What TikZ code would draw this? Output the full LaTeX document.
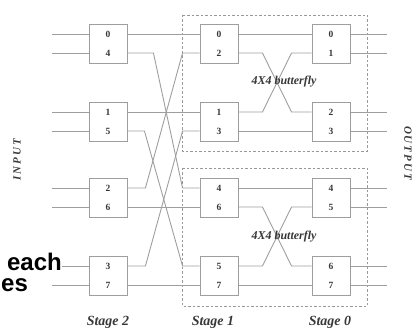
\documentclass[tikz,border=0pt]{standalone}
\usepackage{fontspec}
\setmainfont{Liberation Serif}
\newfontfamily\arialfont{Liberation Sans}
\newfontfamily\spacedfont[LetterSpace=18]{Liberation Serif}
\usetikzlibrary{calc}
\definecolor{wirecol}{gray}{0.62}
\definecolor{inkcol}{gray}{0.22}
\tikzset{
  swbox/.style={draw=wirecol, line width=0.9pt, minimum width=38pt, minimum height=39pt, inner sep=0pt},
  port/.style={font=\bfseries\fontsize{9.5}{9.5}\selectfont, text=inkcol, inner sep=0pt},
  wire/.style={draw=wirecol, line width=0.9pt},
  bfly/.style={draw=gray!80, line width=0.7pt, dash pattern=on 2.5pt off 2pt},
  stagelbl/.style={font=\bfseries\itshape\fontsize{14}{14}\selectfont, text=inkcol},
  bflylbl/.style={font=\bfseries\itshape\fontsize{12}{12}\selectfont, text=inkcol, inner sep=0pt},
  iolbl/.style={font=\spacedfont\bfseries\itshape\fontsize{11}{11}\selectfont, text=gray!45!black},
  pagetext/.style={inner sep=0pt}
}
\begin{document}
\begin{tikzpicture}[x=1pt,y=-1pt]
    \useasboundingbox (0,0) rectangle (413,334);

    %butterfly frames
    \draw[bfly] (182,15) rectangle (367,151);
    \draw[bfly] (182,168) rectangle (367,306);

    %switch boxes
    \foreach \st/\bx/\x/\y/\a/\b in {2/s2a/108/43.5/0/4, 2/s2b/108/121.5/1/5, 2/s2c/108/197.5/2/6, 2/s2d/108/275.5/3/7,
                                  1/s1a/219/43.5/0/2, 1/s1b/219/121.5/1/3, 1/s1c/219/197.5/4/6, 1/s1d/219/275.5/5/7,
                                  0/s0a/331/43.5/0/1, 0/s0b/331/121.5/2/3, 0/s0c/331/197.5/4/5, 0/s0d/331/275.5/6/7}
    {
      \node[swbox] (\bx) at (\x,\y) {};
      \node[port] (n\st-\a) at (\x,\y-9.5) {\a};
      \node[port] (n\st-\b) at (\x,\y+9.5) {\b};
    }

    %inputs
    \foreach \bx/\a/\b in {s2a/0/4, s2b/1/5, s2c/2/6, s2d/3/7}
    {
      \draw[wire] (\bx.west |- n2-\a) -- ++(-37,0);
      \draw[wire] (\bx.west |- n2-\b) -- ++(-37,0);
    }

    %outputs
    \foreach \bx/\a/\b in {s0a/0/1, s0b/2/3, s0c/4/5, s0d/6/7}
    {
      \draw[wire] (\bx.east |- n0-\a) -- ++(37,0);
      \draw[wire] (\bx.east |- n0-\b) -- ++(37,0);
    }

    %stage 2 to stage 1
    \draw[wire] (s2a.east |- n2-0) -- (s1a.west |- n1-0);
    \draw[wire] (s2b.east |- n2-1) -- (s1b.west |- n1-1);
    \draw[wire] (s2c.east |- n2-6) -- (s1c.west |- n1-6);
    \draw[wire] (s2d.east |- n2-7) -- (s1d.west |- n1-7);
    \draw[wire] (s2a.east |- n2-4) -- ++(26,0) -- ($(s1c.west |- n1-4)+(-17,0)$) -- (s1c.west |- n1-4);
    \draw[wire] (s2b.east |- n2-5) -- ++(17,0) -- ($(s1d.west |- n1-5)+(-17,0)$) -- (s1d.west |- n1-5);
    \draw[wire] (s2c.east |- n2-2) -- ++(18,0) -- ($(s1a.west |- n1-2)+(-17,0)$) -- (s1a.west |- n1-2);
    \draw[wire] (s2d.east |- n2-3) -- ++(18,0) -- ($(s1b.west |- n1-3)+(-17,0)$) -- (s1b.west |- n1-3);

    %stage 1 to stage 0
    \foreach \ba/\bb/\a in {s1a/s0a/0, s1b/s0b/3, s1c/s0c/4, s1d/s0d/7}
      \draw[wire] (\ba.east |- n1-\a) -- (\bb.west |- n0-\a);
    \foreach \ba/\bb/\a in {s1a/s0b/2, s1b/s0a/1, s1c/s0d/6, s1d/s0c/5}
      \draw[wire] (\ba.east |- n1-\a) -- ++(24,0) -- ($(\bb.west |- n0-\a)+(-20,0)$) -- (\bb.west |- n0-\a);

    %labels
    \node[bflylbl] (bfu) at (284,82) {4X4 butterfly};
    \node[bflylbl] (bfl) at (284,237) {4X4 butterfly};
    \node[stagelbl] (st2) at (108,322) {Stage 2};
    \node[stagelbl] (st1) at (213,322) {Stage 1};
    \node[stagelbl] (st0) at (330,322) {Stage 0};
    \node[iolbl, rotate=90] (inlbl) at (17,160) {INPUT};
    \node[iolbl, rotate=-90] (outlbl) at (408,153) {OUTPUT};

    %page text
    \node[pagetext, fill=white, anchor=base east] (each) at (62,271) {\arialfont\bfseries\fontsize{24}{24}\selectfont each};
    \node[pagetext, anchor=base west] (es) at (1,292) {\arialfont\bfseries\fontsize{24}{24}\selectfont es};
\end{tikzpicture}
\end{document}
